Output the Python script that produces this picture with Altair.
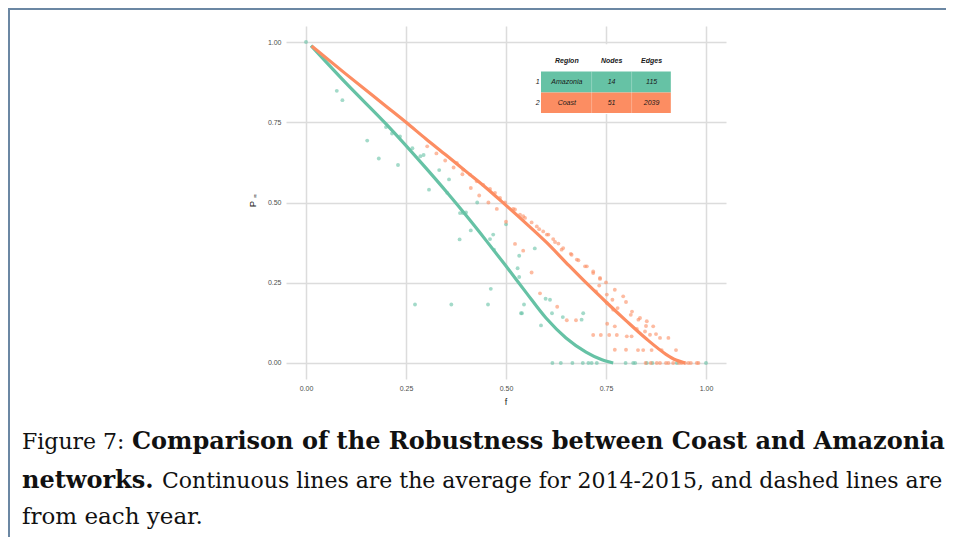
import altair as alt
import pandas as pd

# ---------------- data ----------------
regions = ["Amazonia", "Coast"]
region_colors = ["#66c2a5", "#fc8d62"]

# average robustness curves (2014-2015)
amazonia_line_f = [0.0125, 0.1, 0.2, 0.3, 0.35, 0.4, 0.45, 0.5, 0.55, 0.6, 0.65, 0.7, 0.74, 0.768]
amazonia_line_p = [0.989, 0.872, 0.745, 0.607, 0.535, 0.46, 0.382, 0.302, 0.22, 0.14, 0.078, 0.034, 0.01, 0.0]
coast_line_f = [0.014, 0.1, 0.2, 0.25, 0.3, 0.35, 0.4, 0.45, 0.5, 0.55, 0.6, 0.65, 0.7, 0.75, 0.8, 0.85, 0.9, 0.925, 0.948]
coast_line_p = [0.988, 0.9, 0.8, 0.75, 0.698, 0.648, 0.597, 0.546, 0.491, 0.435, 0.377, 0.313, 0.25, 0.19, 0.132, 0.076, 0.027, 0.009, 0.0]

# per-year points
amazonia_pts_f = [0.0, 0.077, 0.091, 0.153, 0.182, 0.20, 0.215, 0.23, 0.235, 0.266, 0.286, 0.294,
                  0.3075, 0.333, 0.353, 0.3575, 0.385, 0.392, 0.40, 0.384, 0.412, 0.428, 0.2725,
                  0.3633, 0.455, 0.462, 0.46, 0.468, 0.47, 0.50, 0.529, 0.533, 0.533, 0.5375, 0.54,
                  0.545, 0.572, 0.5875, 0.599, 0.61, 0.615, 0.642, 0.689, 0.693,
                  0.616, 0.637, 0.666, 0.692, 0.706, 0.714, 0.727, 0.799, 0.818, 0.823, 0.852,
                  0.866, 0.927, 1.0]
amazonia_pts_p = [1.0, 0.848, 0.819, 0.693, 0.637, 0.735, 0.715, 0.617, 0.706, 0.669, 0.644, 0.648,
                  0.54, 0.601, 0.53, 0.572, 0.467, 0.467, 0.469, 0.385, 0.413, 0.50, 0.182,
                  0.182, 0.182, 0.231, 0.386, 0.40, 0.353, 0.432, 0.295, 0.334, 0.268, 0.155, 0.155,
                  0.182, 0.357, 0.117, 0.20, 0.197, 0.155, 0.143, 0.135, 0.155,
                  0.0, 0.0, 0.0, 0.0, 0.0, 0.0, 0.0, 0.0, 0.0, 0.0, 0.0,
                  0.0, 0.0, 0.0]
coast_pts_f = [0.303, 0.326, 0.348, 0.369, 0.391, 0.412, 0.433, 0.456, 0.477, 0.50, 0.5225, 0.543,
               0.564, 0.585, 0.628, 0.652, 0.675, 0.718, 0.737, 0.758, 0.777, 0.802, 0.772, 0.80,
               0.83, 0.843, 0.864, 0.889, 0.925, 0.906, 0.885, 0.86, 0.8475, 0.827, 0.814, 0.868,
               0.852, 0.831, 0.812, 0.793, 0.772, 0.752, 0.768, 0.753, 0.772,
               0.377, 0.393, 0.41, 0.427, 0.443, 0.46, 0.4725, 0.485, 0.4975, 0.518, 0.5225,
               0.535, 0.543, 0.5475, 0.564, 0.577, 0.583, 0.593, 0.602, 0.606, 0.618, 0.6225,
               0.631, 0.639, 0.643, 0.662, 0.664, 0.677, 0.681, 0.6975, 0.702, 0.718, 0.718,
               0.735, 0.735, 0.75, 0.733, 0.725, 0.752, 0.766, 0.779, 0.80, 0.815, 0.835, 0.85,
               0.875,
               0.849, 0.862, 0.877, 0.885, 0.90, 0.906, 0.918, 0.9325, 0.939, 0.9475, 0.956,
               0.962, 0.977, 0.981]
coast_pts_p = [0.675, 0.653, 0.631, 0.609, 0.588, 0.545, 0.522, 0.50, 0.48, 0.44, 0.371, 0.35,
               0.282, 0.217, 0.175, 0.133, 0.133, 0.087, 0.087, 0.087, 0.087, 0.083, 0.041, 0.041,
               0.04, 0.04, 0.04, 0.04, 0.04, 0.078, 0.078, 0.088, 0.098, 0.106, 0.083, 0.114,
               0.13, 0.135, 0.15, 0.2075, 0.228, 0.187, 0.166, 0.122, 0.114,
               0.623, 0.602, 0.587, 0.566, 0.555, 0.542, 0.53, 0.514, 0.50, 0.48, 0.478,
               0.462, 0.457, 0.452, 0.438, 0.4256, 0.417, 0.41, 0.40, 0.40, 0.386, 0.377,
               0.372, 0.353, 0.358, 0.34, 0.337, 0.322, 0.32, 0.301, 0.301, 0.285, 0.28,
               0.265, 0.262, 0.251, 0.241, 0.223, 0.213, 0.197, 0.171, 0.19, 0.16, 0.14, 0.115,
               0.09,
               0.0, 0.0, 0.0, 0.0, 0.0, 0.0, 0.0, 0.0, 0.0, 0.0, 0.0,
               0.0, 0.0, 0.0]

# inset table
table_regions = ["Amazonia", "Coast"]
table_nodes = [14, 51]
table_edges = [115, 2039]
table_headers = ["Region", "Nodes", "Edges"]

x_ticks = [0.0, 0.25, 0.5, 0.75, 1.0]
y_ticks = [0.0, 0.25, 0.5, 0.75, 1.0]

# ---------------- frames ----------------
lines_df = pd.concat([
    pd.DataFrame({"f": amazonia_line_f, "P": amazonia_line_p, "region": "Amazonia"}),
    pd.DataFrame({"f": coast_line_f, "P": coast_line_p, "region": "Coast"}),
])
pts_df = pd.concat([
    pd.DataFrame({"f": amazonia_pts_f, "P": amazonia_pts_p, "region": "Amazonia"}),
    pd.DataFrame({"f": coast_pts_f, "P": coast_pts_p, "region": "Coast"}),
])

W, H = 440, 353
xs = alt.Scale(domain=[-0.05, 1.05], nice=False, zero=False)
ys = alt.Scale(domain=[-0.05, 1.05], nice=False, zero=False)
cs = alt.Scale(domain=regions, range=region_colors)

ax_x = alt.Axis(values=x_ticks, format=".2f", title=None, grid=True, domain=False, ticks=False,
                labelFontSize=7, labelColor="#4d4d4d", labelPadding=5, labelFlush=False,
                labelFont="Liberation Sans", gridColor="#dcdcdc", gridWidth=1.5)
ax_y = alt.Axis(values=y_ticks, format=".2f", title=None, grid=True, domain=False, ticks=False,
                labelFontSize=7, labelColor="#4d4d4d", labelPadding=5, labelFlush=False,
                labelFont="Liberation Sans", gridColor="#dcdcdc", gridWidth=1.5)

points = alt.Chart(pts_df).mark_circle(size=15, opacity=0.6).encode(
    x=alt.X("f:Q", scale=xs, axis=ax_x),
    y=alt.Y("P:Q", scale=ys, axis=ax_y),
    color=alt.Color("region:N", scale=cs, legend=None),
)
curves = alt.Chart(lines_df).mark_line(strokeWidth=3.2, interpolate="monotone").encode(
    x=alt.X("f:Q", scale=xs),
    y=alt.Y("P:Q", scale=ys),
    color=alt.Color("region:N", scale=cs, legend=None),
    detail="region:N",
)

# ---- inset table (placed in data coordinates of the panel) ----
one = pd.DataFrame({"a": [0]})
tab_bg = alt.Chart(one).mark_rect(color="white").encode(
    x=alt.datum(0.572, scale=xs), x2=alt.datum(0.918),
    y=alt.datum(0.993, scale=ys), y2=alt.datum(0.776),
)
row_top = [0.908, 0.843]
row_bot = [0.843, 0.779]
cells_df = pd.DataFrame({
    "region": table_regions, "top": row_top, "bot": row_bot,
    "mid": [(t + b) / 2 for t, b in zip(row_top, row_bot)],
    "nodes": [str(n) for n in table_nodes], "edges": [str(e) for e in table_edges],
    "idx": [str(i + 1) for i in range(len(table_regions))],
})
cell_rects = alt.Chart(cells_df).mark_rect().encode(
    x=alt.datum(0.5875, scale=xs), x2=alt.datum(0.912),
    y=alt.Y("top:Q", scale=ys), y2="bot:Q",
    color=alt.Color("region:N", scale=cs, legend=None),
)
col_seps = alt.Chart(pd.DataFrame({"c": [0.714, 0.814]})).mark_rule(
    color="white", strokeWidth=0.8, opacity=0.35).encode(
    x=alt.X("c:Q", scale=xs), y=alt.datum(0.908, scale=ys), y2=alt.datum(0.779))

txt_style = dict(fontSize=7, font="Liberation Sans", fontStyle="italic", color="#1a1a1a")
col_x = [0.652, 0.764, 0.864]
hdr = alt.Chart(pd.DataFrame({"h": table_headers, "x": col_x})).mark_text(
    fontWeight="bold", **txt_style).encode(
    x=alt.X("x:Q", scale=xs), y=alt.datum(0.9417, scale=ys), text="h:N")
c_reg = alt.Chart(cells_df).mark_text(**txt_style).encode(
    x=alt.datum(col_x[0], scale=xs), y=alt.Y("mid:Q", scale=ys), text="region:N")
c_nod = alt.Chart(cells_df).mark_text(**txt_style).encode(
    x=alt.datum(col_x[1], scale=xs), y=alt.Y("mid:Q", scale=ys), text="nodes:N")
c_edg = alt.Chart(cells_df).mark_text(**txt_style).encode(
    x=alt.datum(col_x[2], scale=xs), y=alt.Y("mid:Q", scale=ys), text="edges:N")
c_idx = alt.Chart(cells_df).mark_text(align="right", **txt_style).encode(
    x=alt.datum(0.584, scale=xs), y=alt.Y("mid:Q", scale=ys), text="idx:N")

# ---- axis titles ----
def label(txt, x, y, **kw):
    return alt.Chart(one).mark_text(**kw).encode(
        x=alt.value(x), y=alt.value(y), text=alt.value(txt))

x_title = label("f", 220, 376, fontSize=9, font="Liberation Sans", color="#1a1a1a")
y_title = label("P", -33, 178, fontSize=9.5, font="Liberation Sans", color="#1a1a1a", angle=270)
y_sub = label("\u221e", -31.5, 170, fontSize=6, font="DejaVu Sans", color="#1a1a1a", angle=270)

# ---- caption ----
cap = dict(font="DejaVu Serif", color="#111111", align="left", baseline="alphabetic")
c1a = label("Figure 7:", -264, 423, fontSize=22, **cap)
c1b = label("Comparison of the Robustness between Coast and Amazonia", -154, 423,
            fontSize=24, fontWeight="bold", **cap)
c2a = label("networks.", -264, 462, fontSize=24, fontWeight="bold", **cap)
c2b = label("Continuous lines are the average for 2014-2015, and dashed lines are", -124, 462,
            fontSize=22, **cap)
c3 = label("from each year.", -264, 498, fontSize=23, **cap)

# ---- page frame: top and left edges ----
frame_top = alt.Chart(one).mark_rule(color="#6b87a3", strokeWidth=2).encode(
    x=alt.value(-278), x2=alt.value(660), y=alt.value(-17))
frame_left = alt.Chart(one).mark_rule(color="#6b87a3", strokeWidth=2).encode(
    x=alt.value(-277), y=alt.value(-18), y2=alt.value(514))

chart = alt.layer(
    points, curves, tab_bg, cell_rects, col_seps, hdr, c_reg, c_nod, c_edg, c_idx,
    x_title, y_title, y_sub, c1a, c1b, c2a, c2b, c3, frame_top, frame_left,
).properties(
    width=W, height=H,
    autosize=alt.AutoSizeParams(type="none"),
    padding={"left": 278, "top": 18, "right": 220, "bottom": 158},
    background="white",
).configure_view(stroke=None)

chart.save("out.html", embed_options={"renderer": "svg", "actions": False})
